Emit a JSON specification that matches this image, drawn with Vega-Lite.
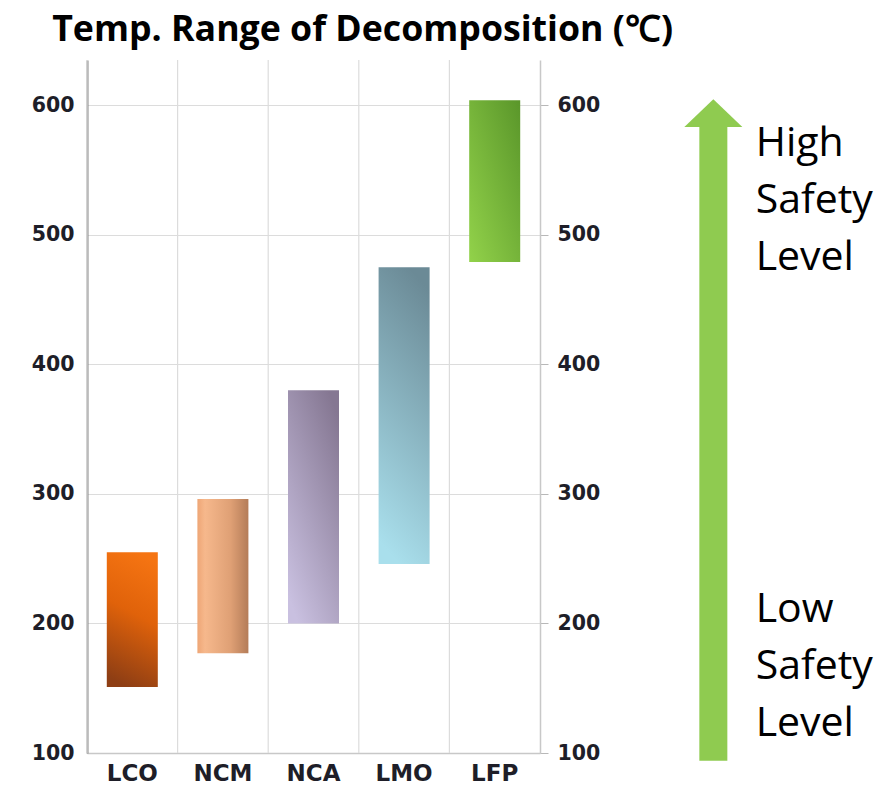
{
  "$schema": "https://vega.github.io/schema/vega-lite/v6.json",
  "padding": {"left": 31, "top": 11, "right": 0, "bottom": 0},
  "background": "white",
  "title": {
    "text": "Temp. Range of Decomposition (℃)",
    "font": "Open Sans",
    "fontSize": 35.7,
    "fontWeight": "bold",
    "color": "#000000",
    "anchor": "start",
    "dx": 21,
    "offset": 11
  },
  "datasets": {
    "materials": [
      {"material": "LCO", "low": 151, "high": 255},
      {"material": "NCM", "low": 177, "high": 296},
      {"material": "NCA", "low": 200, "high": 380},
      {"material": "LMO", "low": 246, "high": 475},
      {"material": "LFP", "low": 479, "high": 604}
    ]
  },
  "spacing": 42,
  "hconcat": [
    {
      "width": 453,
      "height": 693,
      "data": {"name": "materials"},
      "layer": [
        {
          "mark": {"type": "rule", "color": "#dcdcdc", "strokeWidth": 1.2},
          "encoding": {
            "x": {
              "field": "material",
              "type": "nominal",
              "sort": null,
              "bandPosition": 0,
              "scale": {"paddingInner": 0, "paddingOuter": 0},
              "axis": {
                "title": null,
                "orient": "bottom",
                "bandPosition": 0.5,
                "ticks": false,
                "grid": false,
                "labelAngle": 0,
                "labelFont": "DejaVu Sans",
                "labelFontWeight": "bold",
                "labelFontSize": 23,
                "labelColor": "#1e1e28",
                "labelPadding": 9,
                "domainColor": "#c8c8c8",
                "domainWidth": 1.5
              }
            }
          }
        },
        {
          "transform": [{"filter": "datum.material === 'LCO'"}],
          "mark": {
            "type": "bar",
            "width": {"band": 0.563},
            "color": {
              "gradient": "linear",
              "x1": 0.6, "y1": 0, "x2": 0.4, "y2": 1,
              "stops": [
                {"offset": 0, "color": "#f57412"},
                {"offset": 0.45, "color": "#e0620a"},
                {"offset": 1, "color": "#8e3e14"}
              ]
            }
          },
          "encoding": {
            "x": {"field": "material", "type": "nominal", "sort": null},
            "y": {
              "field": "low",
              "type": "quantitative",
              "scale": {"domain": [100, 635], "nice": false, "zero": false},
              "axis": {
                "orient": "left",
                "title": null,
                "values": [100, 200, 300, 400, 500, 600],
                "grid": true,
                "gridColor": "#dcdcdc",
                "gridWidth": 1.2,
                "ticks": false,
                "domainColor": "#8a8a8a",
                "domainWidth": 2,
                "labelFont": "DejaVu Sans",
                "labelFontWeight": "bold",
                "labelFontSize": 20.5,
                "labelColor": "#1e1e28",
                "labelPadding": 13
              }
            },
            "y2": {"field": "high"}
          }
        },
        {
          "transform": [{"filter": "datum.material === 'NCM'"}],
          "mark": {
            "type": "bar",
            "width": {"band": 0.563},
            "color": {
              "gradient": "linear",
              "x1": 0, "y1": 0.5, "x2": 1, "y2": 0.5,
              "stops": [
                {"offset": 0, "color": "#eea676"},
                {"offset": 0.15, "color": "#f6b88c"},
                {"offset": 0.65, "color": "#dfa075"},
                {"offset": 1, "color": "#b47c58"}
              ]
            }
          },
          "encoding": {
            "x": {"field": "material", "type": "nominal", "sort": null},
            "y": {"field": "low", "type": "quantitative", "axis": {
                "orient": "right",
                "title": null,
                "values": [100, 200, 300, 400, 500, 600],
                "grid": false,
                "ticks": true,
                "tickSize": 8,
                "tickColor": "#b8b8b8",
                "domainColor": "#c8c8c8",
                "domainWidth": 1.5,
                "labelFont": "DejaVu Sans",
                "labelFontWeight": "bold",
                "labelFontSize": 20.5,
                "labelColor": "#1e1e28",
                "labelPadding": 9
              }},
            "y2": {"field": "high"}
          }
        },
        {
          "transform": [{"filter": "datum.material === 'NCA'"}],
          "mark": {
            "type": "bar",
            "width": {"band": 0.563},
            "color": {
              "gradient": "linear",
              "x1": 0.8, "y1": 0, "x2": 0.2, "y2": 1,
              "stops": [
                {"offset": 0, "color": "#857792"},
                {"offset": 1, "color": "#c9c0e0"}
              ]
            }
          },
          "encoding": {
            "x": {"field": "material", "type": "nominal", "sort": null},
            "y": {"field": "low", "type": "quantitative", "axis": null},
            "y2": {"field": "high"}
          }
        },
        {
          "transform": [{"filter": "datum.material === 'LMO'"}],
          "mark": {
            "type": "bar",
            "width": {"band": 0.563},
            "color": {
              "gradient": "linear",
              "x1": 0.6, "y1": 0, "x2": 0.4, "y2": 1,
              "stops": [
                {"offset": 0, "color": "#6b8a96"},
                {"offset": 1, "color": "#a9dfec"}
              ]
            }
          },
          "encoding": {
            "x": {"field": "material", "type": "nominal", "sort": null},
            "y": {"field": "low", "type": "quantitative", "axis": null},
            "y2": {"field": "high"}
          }
        },
        {
          "transform": [{"filter": "datum.material === 'LFP'"}],
          "mark": {
            "type": "bar",
            "width": {"band": 0.563},
            "color": {
              "gradient": "linear",
              "x1": 0, "y1": 1, "x2": 1, "y2": 0,
              "stops": [
                {"offset": 0, "color": "#92d24a"},
                {"offset": 1, "color": "#5a962a"}
              ]
            }
          },
          "encoding": {
            "x": {"field": "material", "type": "nominal", "sort": null},
            "y": {"field": "low", "type": "quantitative", "axis": null},
            "y2": {"field": "high"}
          }
        }
      ],
      "resolve": {"axis": {"y": "independent"}}
    },
    {
      "width": 246,
      "height": 693,
      "data": {"values": [{}]},
      "layer": [
        {
          "mark": {"type": "rule", "color": "#8fcb50", "strokeWidth": 28, "strokeCap": "butt"},
          "encoding": {
            "x": {"datum": 0.29, "type": "quantitative", "scale": {"domain": [0, 1], "nice": false, "zero": false}, "axis": null},
            "y": {"datum": 94, "type": "quantitative", "scale": {"domain": [100, 635], "nice": false, "zero": false}, "axis": null},
            "y2": {"datum": 585}
          }
        },
        {
          "mark": {"type": "point", "shape": "M-1,0.48L0,-0.48L1,0.48Z", "size": 3364, "filled": true, "color": "#8fcb50", "opacity": 1},
          "encoding": {
            "x": {"datum": 0.29, "type": "quantitative"},
            "y": {"datum": 594, "type": "quantitative"}
          }
        },
        {
          "mark": {"type": "text", "font": "Open Sans", "fontSize": 41, "color": "#000000", "align": "left", "baseline": "alphabetic", "lineHeight": 57},
          "encoding": {
            "x": {"datum": 0.462, "type": "quantitative"},
            "y": {"datum": 561, "type": "quantitative"},
            "text": {"value": ["High", "Safety", "Level"]}
          }
        },
        {
          "mark": {"type": "text", "font": "Open Sans", "fontSize": 41, "color": "#000000", "align": "left", "baseline": "alphabetic", "lineHeight": 57},
          "encoding": {
            "x": {"datum": 0.462, "type": "quantitative"},
            "y": {"datum": 201, "type": "quantitative"},
            "text": {"value": ["Low", "Safety", "Level"]}
          }
        }
      ]
    }
  ],
  "config": {"view": {"stroke": null}}
}
